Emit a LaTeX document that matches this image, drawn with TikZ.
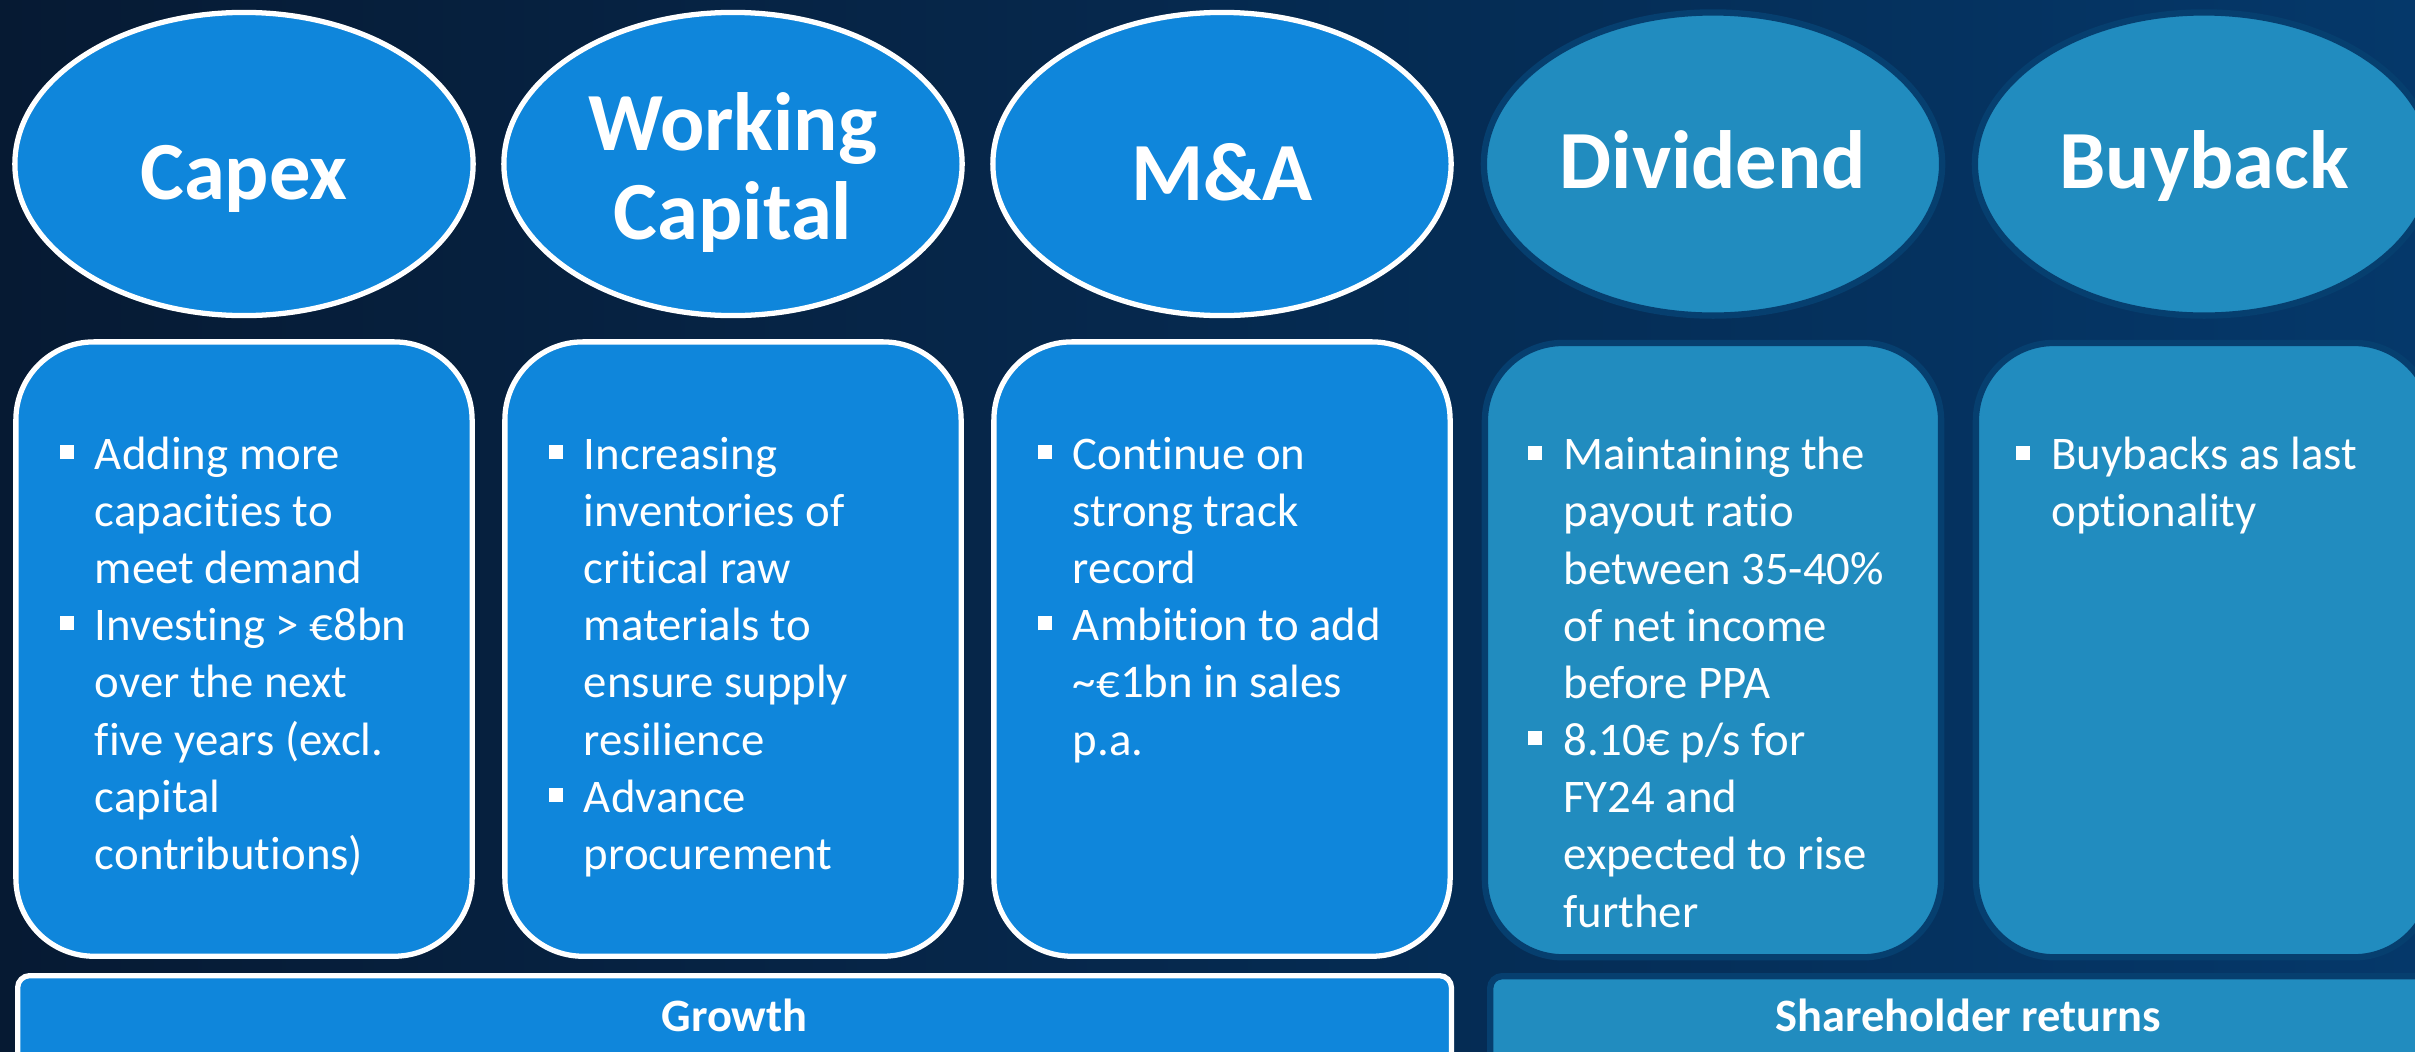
\documentclass[tikz,border=0pt]{standalone}
\usepackage{fontspec}
\setmainfont{Carlito}[Ligatures=NoCommon]
\usetikzlibrary{positioning,shapes.geometric}
\definecolor{bgleft}{HTML}{061A33}
\definecolor{bgright}{HTML}{05386A}
\definecolor{growfill}{HTML}{0F86DB}
\definecolor{retfill}{HTML}{218CBF}
\definecolor{retline}{HTML}{063F6F}
\newcommand{\blt}{\leavevmode\llap{\rule[0.22em]{0.3em}{0.3em}\hspace{0.45em}}}

\begin{document}
\begin{tikzpicture}[x=0.01cm, y=-0.01cm,
  oval/.style={ellipse, minimum width=4.58cm, minimum height=3.03cm, inner sep=0pt},
  card/.style={rectangle, rounded corners=0.78cm, minimum width=4.56cm, minimum height=6.14cm, inner sep=0pt},
  growpart/.style={fill=growfill, draw=white, line width=1.5pt},
  retpart/.style={fill=retfill, draw=retline, line width=1.8pt},
  ttl/.style={text=white, anchor=base, inner sep=0pt, font=\fontsize{23.5}{25.3}\selectfont\bfseries},
  pts/.style={text=white, anchor=base west, inner sep=0pt, font=\fontsize{13.3}{16.25}\selectfont},
  band/.style={rectangle, rounded corners=0.12cm, minimum height=0.95cm, anchor=north west, inner sep=0pt},
  bandtxt/.style={text=white, anchor=base, inner sep=0pt, font=\fontsize{13.2}{15}\selectfont\bfseries}]
\newcommand{\pillar}[5]{%
  \node[oval, #3] (#1) at (#2,164) {};
  \node[ttl] (#1t) at ([yshift=#4]#1.center) {\parbox[t]{4.2cm}{\centering #5}};
  \node[card, #3, below=0.21cm of #1] (#1box) {};}
\useasboundingbox (0,0) rectangle (2415,1051);
\clip (0,0) rectangle (2415,1051);
\shade[left color=bgleft, right color=bgright] (0,0) rectangle (2415,1051);

\pillar{capex}{244}{growpart}{-0.35cm}{Capex}
\pillar{wcap}{733}{growpart}{0.13cm}{Working\\Capital}
\pillar{mna}{1222}{growpart}{-0.36cm}{M\&A}
\pillar{divi}{1713}{retpart}{-0.24cm}{Dividend}
\pillar{buyb}{2204}{retpart}{-0.24cm}{Buyback}

\node[pts] (capexpts) at ([xshift=0.81cm, yshift=-1.30cm]capexbox.north west)
  {\parbox[t]{4cm}{\raggedright \blt Adding more\\ capacities to\\ meet demand\\
   \blt Investing > €8bn\\ over the next\\ five years (excl.\\ capital\\ contributions)}};
\node[pts] (wcappts) at ([xshift=0.81cm, yshift=-1.30cm]wcapbox.north west)
  {\parbox[t]{4cm}{\raggedright \blt Increasing\\ inventories of\\ critical raw\\ materials to\\
   ensure supply\\ resilience\\ \blt Advance\\ procurement}};
\node[pts] (mnapts) at ([xshift=0.81cm, yshift=-1.30cm]mnabox.north west)
  {\parbox[t]{4cm}{\raggedright \blt Continue on\\ strong track\\ record\\
   \blt Ambition to add\\ \textasciitilde€1bn in sales\\ p.a.}};
\node[pts] (divipts) at ([xshift=0.81cm, yshift=-1.30cm]divibox.north west)
  {\parbox[t]{4cm}{\raggedright \blt Maintaining the\\ payout ratio\\ between 35-40\%\\ of net income\\
   before PPA\\ \blt 8.10€ p/s for\\ FY24 and\\ expected to rise\\ further}};
\node[pts] (buybpts) at ([xshift=0.78cm, yshift=-1.30cm]buybbox.north west)
  {\parbox[t]{4cm}{\raggedright \blt Buybacks as last\\ optionality}};

\node[band, growpart, minimum width=14.33cm] (growth) at (15,973) {};
\node[bandtxt] (growtht) at ([yshift=-0.58cm]growth.north) {Growth};
\node[band, retpart, minimum width=9.6cm] (returns) at (1487,973) {};
\node[bandtxt] (returnst) at ([yshift=-0.58cm, xshift=-0.02cm]returns.north) {Shareholder returns};
\end{tikzpicture}
\end{document}
